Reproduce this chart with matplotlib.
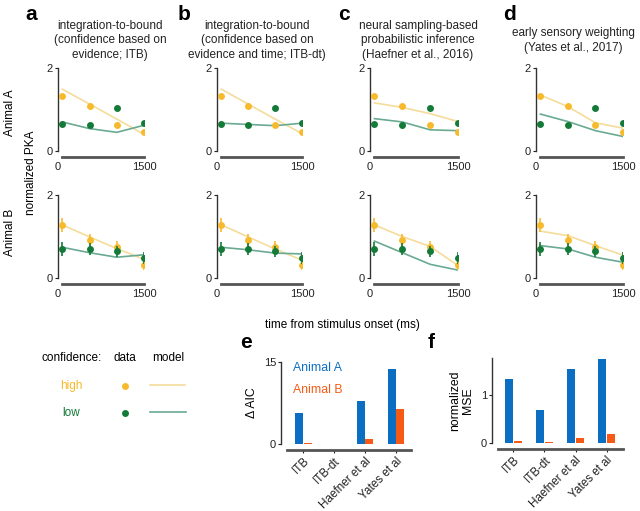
import numpy as np
import matplotlib
matplotlib.use("Agg")
import matplotlib.pyplot as plt

plt.rcParams.update({"font.family": ["Liberation Sans", "DejaVu Sans"], "font.size": 8.5})

W, H = 640, 511

# cores
AMARELO = "#F7BA2C"
VERDE = "#137A38"
MOD_ALTO = "#F5DC9B"
MOD_BAIXO = "#6AAA93"
AZUL = "#0A6FC2"
LARANJA = "#F75A14"

# ---------------- dados PKA ----------------
tempo = [75, 550, 1025, 1500]

# animal A (linha 1)
dados_alto_A = [1.32, 1.08, 0.63, 0.45]
dados_baixo_A = [0.65, 0.62, 1.04, 0.67]
# animal B (linha 2)
dados_alto_B = [1.28, 0.92, 0.74, 0.32]
dados_baixo_B = [0.70, 0.70, 0.64, 0.48]
erro_alto_B = [0.17, 0.14, 0.14, 0.13]
erro_baixo_B = [0.16, 0.15, 0.14, 0.14]

# modelos: ITB, ITB-dt, Haefner, Yates
modelo_alto_A = [[1.49, 1.13, 0.77, 0.40],
                 [1.49, 1.13, 0.77, 0.42],
                 [1.16, 1.05, 0.90, 0.71],
                 [1.35, 1.07, 0.68, 0.55]]
modelo_baixo_A = [[0.70, 0.54, 0.45, 0.62],
                  [0.67, 0.64, 0.61, 0.67],
                  [0.78, 0.70, 0.51, 0.49],
                  [0.89, 0.71, 0.49, 0.35]]
modelo_alto_B = [[1.28, 0.99, 0.71, 0.45],
                 [1.28, 0.99, 0.70, 0.43],
                 [1.28, 1.00, 0.76, 0.30],
                 [1.13, 1.02, 0.78, 0.55]]
modelo_baixo_B = [[0.74, 0.61, 0.50, 0.56],
                  [0.74, 0.68, 0.60, 0.58],
                  [0.89, 0.61, 0.33, 0.19],
                  [0.78, 0.70, 0.50, 0.38]]

titulos = [["integration-to-bound", "(confidence based on", "evidence; ITB)"],
           ["integration-to-bound", "(confidence based on", "evidence and time; ITB-dt)"],
           ["neural sampling-based", "probabilistic inference", "(Haefner et al., 2016)"],
           ["early sensory weighting", "(Yates et al., 2017)"]]
letras = ["a", "b", "c", "d"]

# ---------------- dados barras ----------------
modelos = ["ITB", "ITB-dt", "Haefner et al", "Yates et al"]
aic_A = [5.7, 0.0, 7.9, 13.8]
aic_B = [0.1, 0.0, 1.0, 6.4]
mse_A = [1.35, 0.70, 1.545, 1.75]
mse_B = [0.045, 0.03, 0.10, 0.18]

fig = plt.figure(figsize=(6.4, 5.11), dpi=100)


def eixo(x0, y0, x1, y1):
    # caixa em pixels (esq, topo, dir, base)
    return fig.add_axes([x0 / W, 1 - y1 / H, (x1 - x0) / W, (y1 - y0) / H])


def ftxt(x, y, s, **kw):
    fig.text(x / W, 1 - y / H, s, **kw)


def estilo(ax):
    for s in ["top", "right"]:
        ax.spines[s].set_visible(False)
    ax.spines["left"].set_color("#333333")
    ax.spines["left"].set_linewidth(1.0)
    ax.spines["bottom"].set_color("#555555")
    ax.spines["bottom"].set_linewidth(2.0)
    ax.spines["bottom"].set_position(("outward", 4))
    ax.tick_params(length=2, width=0.8, labelsize=8, pad=1.5, colors="#222222")


col_x = [(58, 144), (217, 302), (370, 458), (536, 623)]
lin_y = [(68, 151), (195, 278)]
titulo_cx = [110, 257, 418, 573]
letra_x = [25, 178, 338, 503]

for j in range(4):
    for i in range(2):
        ax = eixo(col_x[j][0], lin_y[i][0], col_x[j][1], lin_y[i][1])
        estilo(ax)
        if i == 0:
            ax.plot(tempo, modelo_alto_A[j], color=MOD_ALTO, lw=1.2, zorder=1)
            ax.plot(tempo, modelo_baixo_A[j], color=MOD_BAIXO, lw=1.2, zorder=1)
            ax.plot(tempo, dados_alto_A, "o", color=AMARELO, ms=5, mec="none", zorder=3)
            ax.plot(tempo, dados_baixo_A, "o", color=VERDE, ms=5, mec="none", zorder=3)
        else:
            ax.plot(tempo, modelo_alto_B[j], color=MOD_ALTO, lw=1.2, zorder=1)
            ax.plot(tempo, modelo_baixo_B[j], color=MOD_BAIXO, lw=1.2, zorder=1)
            ax.errorbar(tempo, dados_alto_B, yerr=erro_alto_B, fmt="o", color=AMARELO,
                        ms=5, mec="none", elinewidth=1.2, capsize=0, zorder=3)
            ax.errorbar(tempo, dados_baixo_B, yerr=erro_baixo_B, fmt="o", color=VERDE,
                        ms=5, mec="none", elinewidth=1.2, capsize=0, zorder=4)
        ax.set_xlim(0, 1500)
        ax.set_ylim(0, 2)
        ax.set_xticks([0, 1500])
        ax.set_yticks([0, 2])
        ax.spines["bottom"].set_bounds(tempo[0], tempo[-1])
        ax.tick_params(axis="x", length=0, pad=4)
        ax.patch.set_visible(False)
    n = len(titulos[j])
    for k, linha in enumerate(titulos[j]):
        ftxt(titulo_cx[j], 40.5 + (k - (n - 1) / 2) * 14.3, linha, ha="center",
             va="center", fontsize=8.5, color="#222222")
    ftxt(letra_x[j], 5, letras[j], ha="left", va="top", fontsize=15, fontweight="bold")

ftxt(10, 113, "Animal A", rotation=90, ha="center", va="center", fontsize=8.5)
ftxt(10, 232, "Animal B", rotation=90, ha="center", va="center", fontsize=8.5)
ftxt(31, 173, "normalized PKA", rotation=90, ha="center", va="center", fontsize=8.5)
ftxt(342, 325, "time from stimulus onset (ms)", ha="center", va="center", fontsize=8.5)

# ---------------- legenda ----------------
ftxt(42, 358, "confidence:", ha="left", va="center", fontsize=8.5)
ftxt(125, 358, "data", ha="center", va="center", fontsize=8.5)
ftxt(168, 358, "model", ha="center", va="center", fontsize=8.5)
ftxt(71, 386, "high", ha="center", va="center", fontsize=8.5, color=AMARELO)
ftxt(71, 413, "low", ha="center", va="center", fontsize=8.5, color=VERDE)
leg = fig.add_axes([0, 0, 1, 1])
leg.set_xlim(0, W)
leg.set_ylim(H, 0)
leg.axis("off")
leg.plot([125], [386], "o", color=AMARELO, ms=5, mec="none")
leg.plot([125], [413], "o", color=VERDE, ms=5, mec="none")
leg.plot([150, 185], [385, 385], color=MOD_ALTO, lw=1.2)
leg.plot([150, 186], [412, 412], color=MOD_BAIXO, lw=1.2)

# ---------------- barras ----------------
x = np.arange(len(modelos))
larg = 0.26


def barras(ax, va, vb, lim, ticks, xlim, x0):
    estilo(ax)
    ax.bar(x - 0.14, va, larg, color=AZUL)
    ax.bar(x + 0.14, vb, larg, color=LARANJA)
    ax.set_xlim(*xlim)
    ax.set_ylim(0, lim)
    ax.set_yticks(ticks)
    ax.set_xticks(x)
    ax.set_xticklabels(modelos, rotation=45, ha="right", rotation_mode="anchor", fontsize=8.4)
    ax.tick_params(axis="x", length=2, pad=2)
    ax.spines["bottom"].set_bounds(x0, xlim[1])
    ax.patch.set_visible(False)


ax_e = eixo(281, 362, 411, 444)
barras(ax_e, aic_A, aic_B, 15, [0, 15], (-0.73, 3.49), -0.54)
ax_e.set_ylabel("Δ AIC", fontsize=8.8, labelpad=4)
ax_e.text(0.09, 0.93, "Animal A", transform=ax_e.transAxes, color=AZUL, fontsize=8.8,
          ha="left", va="center")
ax_e.text(0.09, 0.66, "Animal B", transform=ax_e.transAxes, color=LARANJA, fontsize=8.8,
          ha="left", va="center")
ftxt(240, 333, "e", ha="left", va="top", fontsize=15, fontweight="bold")

ax_f = eixo(492, 358, 623, 443)
barras(ax_f, mse_A, mse_B, 1.78, [0, 1], (-0.69, 3.53), -0.51)
ax_f.set_ylabel("normalized\nMSE", fontsize=8.8, labelpad=5, linespacing=1.1)
ftxt(428, 333, "f", ha="left", va="top", fontsize=15, fontweight="bold")

fig.savefig("out.png", dpi=100)
